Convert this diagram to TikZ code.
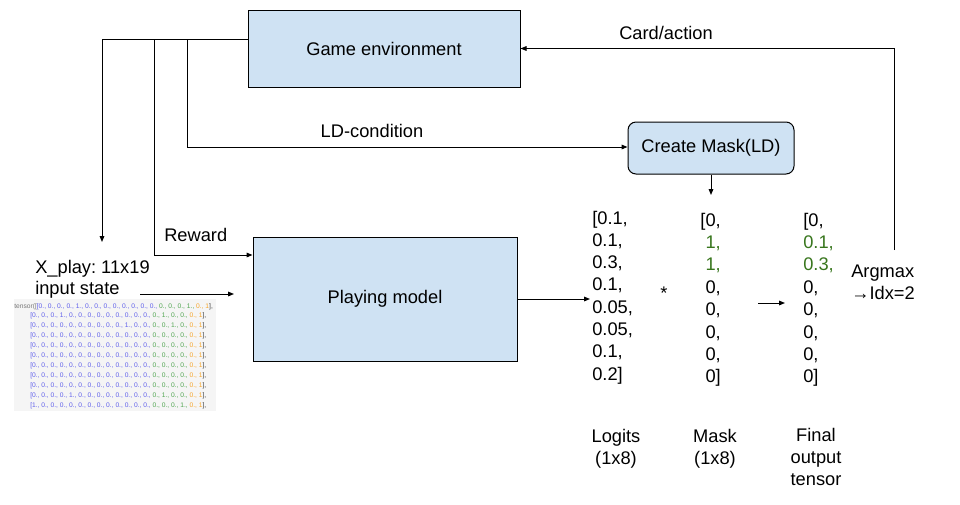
\documentclass[tikz,border=0pt]{standalone}
\usepackage{fontspec}
\setmainfont{Liberation Sans}
\setmonofont{Liberation Mono}
\usetikzlibrary{arrows.meta}
\definecolor{boxblue}{HTML}{CFE2F3}
\definecolor{dgreen}{HTML}{38761D}
\definecolor{tblue}{RGB}{95,95,235}
\definecolor{tgreen}{RGB}{80,165,80}
\definecolor{torange}{RGB}{245,165,40}
\definecolor{tgrey}{RGB}{120,120,120}
\definecolor{tbg}{RGB}{245,245,245}
\frenchspacing
\newcommand{\tsr}[3]{\textcolor{tblue}{#1}\textcolor{tgreen}{#2}\textcolor{torange}{#3}\textcolor{black!75}{],}}
\begin{document}
\begin{tikzpicture}[x=0.75pt,y=-0.75pt,
  arr/.style={draw=black, line width=0.75pt, -{Triangle[length=4.5pt,width=3.5pt]}},
  ln/.style={draw=black, line width=0.75pt},
  box/.style={draw=black, line width=0.75pt, fill=boxblue, inner sep=0, font=\fontsize{13.7}{16}\selectfont},
  lbl/.style={font=\fontsize{13.7}{16}\selectfont, inner sep=0},
  tens/.style={font=\fontsize{5}{6}\selectfont, inner sep=0, anchor=base west}]
\useasboundingbox (0,0) rectangle (960,504);
\fill[white] (0,0) rectangle (960,504);

% boxes
\node[box, minimum width=204pt, minimum height=57.75pt] (ge) at (384,48.5) {Game environment};
\node[box, minimum width=198pt, minimum height=93pt] (pm) at (385,299) {Playing model};
\node[box, rounded corners=6pt, minimum width=124.5pt, minimum height=39pt] (cm) at (711,148) {Create Mask(LD)};

% junction coordinates
\coordinate (geL) at (248,39);
\coordinate (jX) at (102,39);
\coordinate (xT) at (102,242);
\coordinate (jR) at (154,39);
\coordinate (jR2) at (154,255);
\coordinate (jL) at (187,39);
\coordinate (jL2) at (187,147);
\coordinate (mT) at (711,195);
\coordinate (lgT) at (590,299);
\coordinate (amTop) at (894,250);
\coordinate (jC) at (894,48.5);
\coordinate (fA) at (758,303);
\coordinate (fB) at (785,303);
\coordinate (xA) at (140,294);
\coordinate (xB) at (234,294);

% connectors
\draw[ln] (geL) -- (jX);
\draw[arr] (jX) -- (xT);
\draw[arr] (jR) -- (jR2) -- (pm.west |- jR2);
\draw[arr] (jL) -- (jL2) -- (cm.west |- jL2);
\draw[arr] (cm.south) -- (mT);
\draw[arr] (pm.east) -- (lgT);
\draw[arr] (amTop) -- (jC) -- (ge.east);
\draw[arr] (fA) -- (fB);
\draw[arr] (xA) -- (xB);

% labels
\node[lbl, anchor=base] (lcard) at (666,39) {Card/action};
\node[lbl, anchor=base] (lld) at (372,137) {LD-condition};
\node[lbl, anchor=base west] (lrew) at (164,241) {Reward};
\node[lbl, anchor=base west] (lx1) at (35,273) {X\_play: 11x19};
\node[lbl, anchor=base west] (lx2) at (35,294) {input state};
\node[lbl, anchor=base west] (am1) at (851,277) {Argmax};
\node[lbl, anchor=base west] (am2) at (851,299) {→Idx=2};
\node[lbl, anchor=base] (star) at (664,299) {*};

% columns
\foreach \t [count=\i from 0] in {{[0.1,},{0.1,},{0.3,},{0.1,},{0.05,},{0.05,},{0.1,},{0.2]}}
  \node[lbl, anchor=base west] (lg\i) at (592,{224+22.3*\i}) {\t};
\foreach \t/\c [count=\i from 0] in {{[0,}/black,{1,}/dgreen,{1,}/dgreen,{0,}/black,{0,}/black,{0,}/black,{0,}/black,{0]}/black}
  \node[lbl, anchor=base east, text=\c] (mk\i) at (721,{226+22.4*\i}) {\t};
\foreach \t/\c [count=\i from 0] in {{[0,}/black,{0.1,}/dgreen,{0.3,}/dgreen,{0,}/black,{0,}/black,{0,}/black,{0,}/black,{0]}/black}
  \node[lbl, anchor=base west, text=\c] (fo\i) at (803,{226+22.4*\i}) {\t};

% bottom captions
\node[lbl, anchor=base] (cl1) at (616,442) {Logits};
\node[lbl, anchor=base] (cl2) at (616,464) {(1x8)};
\node[lbl, anchor=base] (cm1) at (715,442) {Mask};
\node[lbl, anchor=base] (cm2) at (715,464) {(1x8)};
\node[lbl, anchor=base] (cf1) at (816,441) {Final};
\node[lbl, anchor=base] (cf2) at (816,463) {output};
\node[lbl, anchor=base] (cf3) at (816,485) {tensor};

% tensor screenshot
\fill[tbg] (14,299) rectangle (216,411);
\node[tens] (r1) at (14,308) {\textcolor{tgrey}{tensor([}\tsr{[0., 0., 0., 0., 1., 0., 0., 0., 0., 0., 0., 0., 0., }{0., 0., 0., 1., }{0., 1}};
\node[tens] (r2) at (30,317.9) {\tsr{[0., 0., 0., 1., 0., 0., 0., 0., 0., 0., 0., 0., 0., }{0., 1., 0., 0., }{0., 1}};
\node[tens] (r3) at (30,327.8) {\tsr{[0., 0., 0., 0., 0., 0., 0., 0., 0., 0., 1., 0., 0., }{0., 0., 1., 0., }{0., 1}};
\foreach \k in {3,...,8}
  \node[tens] (r\k x) at (30,{308+9.9*\k}) {\tsr{[0., 0., 0., 0., 0., 0., 0., 0., 0., 0., 0., 0., 0., }{0., 0., 0., 0., }{0., 1}};
\node[tens] (r10) at (30,397.1) {\tsr{[0., 0., 0., 0., 1., 0., 0., 0., 0., 0., 0., 0., 0., }{0., 1., 0., 0., }{0., 1}};
\node[tens] (r11) at (30,407) {\tsr{[1., 0., 0., 0., 0., 0., 0., 0., 0., 0., 0., 0., 0., }{0., 0., 0., 1., }{0., 1}};
\end{tikzpicture}
\end{document}
